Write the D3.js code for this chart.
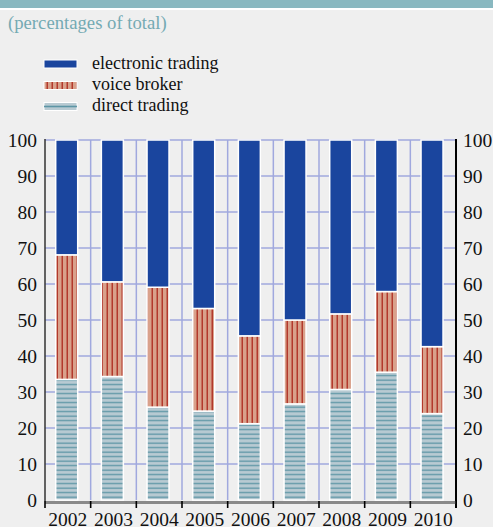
<!DOCTYPE html>
<html>
<head>
<meta charset="utf-8">
<script src="https://cdn.jsdelivr.net/npm/d3@7"></script>
<style>
  html, body { margin: 0; padding: 0; background: #efefef; }
  svg { display: block; }
</style>
</head>
<body>
<svg id="chart" width="493" height="527"></svg>
<script>
const years = ['2002', '2003', '2004', '2005', '2006', '2007', '2008', '2009', '2010'];
const directTrading = [33.5, 34.3, 25.8, 24.7, 21.2, 26.7, 30.7, 35.5, 24.0];
const voiceBroker = [34.6, 26.3, 33.3, 28.5, 24.4, 23.3, 21.0, 22.4, 18.6];
const electronicTrading = [31.9, 39.4, 40.9, 46.8, 54.4, 50.0, 48.3, 42.1, 57.4];
const yTicks = [0, 10, 20, 30, 40, 50, 60, 70, 80, 90, 100];
const seriesNames = ['electronic trading', 'voice broker', 'direct trading'];

const FONT = 'Liberation Serif';
const svg = d3.select('#chart');
const W = 493, H = 527;
const plotLeft = 45, plotRight = 456, plotTop = 140, plotBottom = 500;

// background + banner
svg.append('rect').attr('width', W).attr('height', H).attr('fill', '#efefef');
svg.append('rect').attr('width', W).attr('height', 8).attr('fill', '#89b8c0');
svg.append('rect').attr('y', 8).attr('width', W).attr('height', 2).attr('fill', '#ffffff');
svg.append('text').attr('x', 8).attr('y', 29)
    .attr('font-family', FONT)
    .attr('font-size', 18.7).attr('fill', '#74aab3')
    .text('(percentages of total)');

// patterns
const defs = svg.append('defs');
const pv = defs.append('pattern').attr('id', 'voice')
    .attr('patternUnits', 'userSpaceOnUse').attr('width', 5).attr('height', 10);
pv.append('rect').attr('width', 5).attr('height', 10).attr('fill', '#d9a18b');
pv.append('rect').attr('x', 1.5).attr('width', 1.5).attr('height', 10).attr('fill', '#b3392c');

const pd = defs.append('pattern').attr('id', 'direct')
    .attr('patternUnits', 'userSpaceOnUse').attr('width', 10).attr('height', 4.5);
pd.append('rect').attr('width', 10).attr('height', 4.5).attr('fill', '#b8cad2');
pd.append('rect').attr('y', 1.5).attr('width', 10).attr('height', 1.3).attr('fill', '#5c95a5');

const colors = {
    'electronic trading': '#1a459e',
    'voice broker': 'url(#voice)',
    'direct trading': 'url(#direct)'
};

// legend
const legend = svg.append('g');
const legendY = [60, 81.5, 102.5];
seriesNames.forEach((name, i) => {
    if (name === 'direct trading') {
        legend.append('rect').attr('x', 44).attr('y', legendY[i]).attr('width', 33).attr('height', 8)
            .attr('fill', '#b8cad2').attr('stroke', '#fff').attr('stroke-width', 1);
        legend.append('rect').attr('x', 44).attr('y', legendY[i] + 3.2).attr('width', 33).attr('height', 1.6)
            .attr('fill', '#5c95a5');
    } else {
        legend.append('rect').attr('x', 44).attr('y', legendY[i]).attr('width', 33).attr('height', 8)
            .attr('fill', colors[name]).attr('stroke', '#fff').attr('stroke-width', 1);
    }
    legend.append('text').attr('x', 92).attr('y', legendY[i] + 8.5)
        .attr('font-family', FONT)
        .attr('font-size', 18).attr('fill', '#111').text(name);
});

// scales
const x = d3.scaleBand().domain(years).range([plotLeft, plotRight]).padding(0);
const y = d3.scaleLinear().domain([0, 100]).range([plotBottom, plotTop]);
const bw = x.bandwidth();
const barW = 22;
const barOff = 10.7;

// grid
const grid = svg.append('g').attr('stroke', '#a0a8de').attr('stroke-width', 1.5);
yTicks.filter(t => t > 0).forEach(t => {
    grid.append('line').attr('x1', plotLeft).attr('x2', plotRight).attr('y1', y(t)).attr('y2', y(t));
});
years.slice(1).forEach(yr => {
    grid.append('line').attr('x1', x(yr)).attr('x2', x(yr)).attr('y1', plotTop).attr('y2', plotBottom);
});

// stacked bars
const rows = years.map((yr, i) => ({
    year: yr,
    'direct trading': directTrading[i],
    'voice broker': voiceBroker[i],
    'electronic trading': electronicTrading[i]
}));
const stack = d3.stack().keys(['direct trading', 'voice broker', 'electronic trading']);
const layers = stack(rows);

svg.append('g').selectAll('g')
    .data(layers)
    .join('g')
    .attr('fill', d => colors[d.key])
    .selectAll('rect')
    .data(d => d)
    .join('rect')
    .attr('x', d => x(d.data.year) + barOff)
    .attr('width', barW)
    .attr('y', d => y(Math.min(100, d[1])))
    .attr('height', d => y(d[0]) - y(Math.min(100, d[1])))
    .attr('stroke', '#ffffff')
    .attr('stroke-width', 1.5);

// left axis
svg.append('line').attr('x1', plotLeft).attr('x2', plotLeft).attr('y1', plotTop - 1).attr('y2', plotBottom + 1)
    .attr('stroke', '#333').attr('stroke-width', 1.5);
// right axis
svg.append('line').attr('x1', plotRight).attr('x2', plotRight).attr('y1', plotTop - 1).attr('y2', 508)
    .attr('stroke', '#000').attr('stroke-width', 2);

const yl = svg.append('g');
yTicks.forEach(t => {
    yl.append('text').attr('x', 37).attr('y', y(t) + 6.5).attr('text-anchor', 'end')
        .attr('font-family', FONT).attr('font-size', 19.5).attr('fill', '#111').text(t);
    yl.append('text').attr('x', 463).attr('y', y(t) + 6.5).attr('text-anchor', 'start')
        .attr('font-family', FONT).attr('font-size', 19.5).attr('fill', '#111').text(t);
});

// bottom axis
svg.append('line').attr('x1', plotLeft).attr('x2', plotRight).attr('y1', 502.5).attr('y2', 502.5)
    .attr('stroke', '#8a8a8a').attr('stroke-width', 3);
const bTicks = years.map(yr => x(yr)).concat([plotRight]);
bTicks.forEach(px => {
    svg.append('line').attr('x1', px).attr('x2', px).attr('y1', 501).attr('y2', 508)
        .attr('stroke', '#000').attr('stroke-width', 1.6);
});
svg.append('g').selectAll('text')
    .data(years)
    .join('text')
    .attr('x', d => x(d) + bw / 2)
    .attr('y', 525.5)
    .attr('text-anchor', 'middle')
    .attr('font-family', FONT)
    .attr('font-size', 19.5)
    .attr('fill', '#111')
    .text(d => d);
</script>
</body>
</html>
